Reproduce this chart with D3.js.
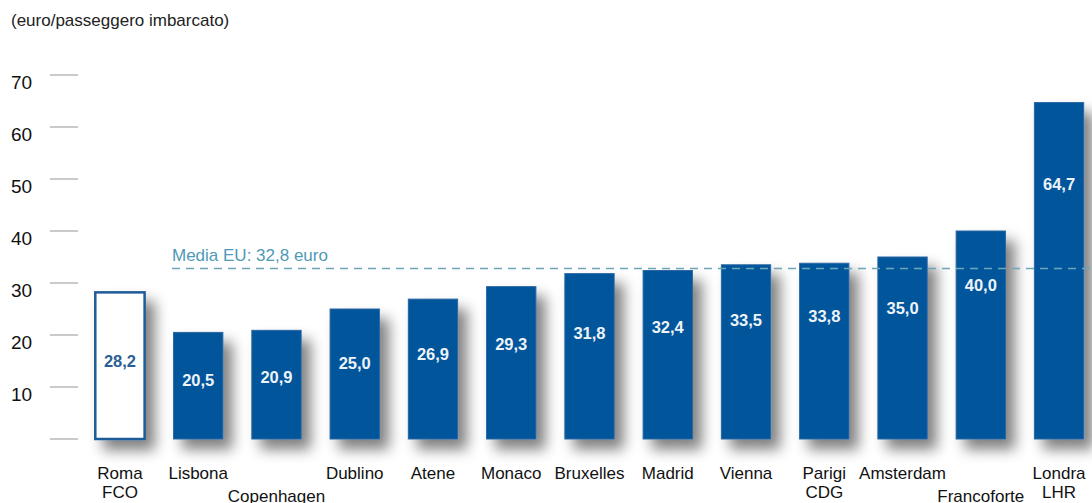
<!DOCTYPE html>
<html>
<head>
<meta charset="utf-8">
<script src="https://cdn.jsdelivr.net/npm/d3@7/dist/d3.min.js"></script>
<style>
  html, body { margin: 0; padding: 0; background: #fff; }
  svg { display: block; font-family: "Liberation Sans", Arial, sans-serif; }
</style>
</head>
<body>
<svg id="chart" width="1092" height="503"></svg>
<script>
// Airport charges per boarded passenger (euro)
const airports = ["Roma\nFCO", "Lisbona", "Copenhagen", "Dublino", "Atene", "Monaco",
  "Bruxelles", "Madrid", "Vienna", "Parigi\nCDG", "Amsterdam", "Francoforte", "Londra\nLHR"];
const charges = [28.2, 20.5, 20.9, 25.0, 26.9, 29.3, 31.8, 32.4, 33.5, 33.8, 35.0, 40.0, 64.7];
const highlighted = ["Roma\nFCO"];
const staggered = ["Copenhagen", "Francoforte"];
const yTicks = [0, 10, 20, 30, 40, 50, 60, 70];
const euMean = 32.8;
const unitLabel = "(euro/passeggero imbarcato)";
const meanLabel = "Media EU: 32,8 euro";

const fmt = v => v.toFixed(1).replace(".", ",");

const svg = d3.select("#chart");
const blue = "#00559b";

// soft drop shadow for bars
const defs = svg.append("defs");
const f = defs.append("filter").attr("id", "shadow")
  .attr("x", "-50%").attr("y", "-20%").attr("width", "220%").attr("height", "170%");
f.append("feGaussianBlur").attr("in", "SourceAlpha").attr("stdDeviation", 7).attr("result", "b");
f.append("feOffset").attr("in", "b").attr("dx", 9).attr("dy", 10).attr("result", "o");
f.append("feComponentTransfer").attr("in", "o").attr("result", "s")
  .append("feFuncA").attr("type", "linear").attr("slope", 0.5);
const m = f.append("feMerge");
m.append("feMergeNode").attr("in", "s");
m.append("feMergeNode").attr("in", "SourceGraphic");

const x = d3.scaleBand().domain(airports).range([82, 1097]).paddingInner(0.37).paddingOuter(0.17);
const y = d3.scaleLinear().domain([0, 70]).range([439, 75]);

// unit label
svg.append("text").attr("x", 11).attr("y", 26)
  .attr("font-size", 17).attr("fill", "#222").text(unitLabel);

// y axis: short tick lines with labels
const yAxis = svg.append("g");
yAxis.selectAll("line").data(yTicks).join("line")
  .attr("x1", 50).attr("x2", 78)
  .attr("y1", d => y(d)).attr("y2", d => y(d))
  .attr("stroke", "#b8b8b8").attr("stroke-width", 1.5);
yAxis.selectAll("text").data(yTicks.filter(d => d > 0)).join("text")
  .attr("x", 11).attr("y", d => y(d) + 14)
  .attr("font-size", 19).attr("fill", "#111").text(d => d);

// bars
const bars = svg.append("g");
bars.selectAll("rect").data(airports).join("rect")
  .attr("x", d => x(d))
  .attr("width", x.bandwidth())
  .attr("y", (d, i) => y(charges[i]))
  .attr("height", (d, i) => y(0) - y(charges[i]))
  .attr("fill", d => highlighted.includes(d) ? "#fff" : blue)
  .attr("stroke", d => highlighted.includes(d) ? "#1d5b98" : "#2a66a3")
  .attr("stroke-width", d => highlighted.includes(d) ? 2.5 : 1)
  .attr("filter", "url(#shadow)");

// EU mean reference line
svg.append("line")
  .attr("x1", 172).attr("x2", 1092)
  .attr("y1", y(euMean)).attr("y2", y(euMean))
  .attr("stroke", "#6ea5b9").attr("stroke-width", 1.5)
  .attr("stroke-dasharray", "8,6");
svg.append("text").attr("x", 172).attr("y", y(euMean) - 7)
  .attr("font-size", 17).attr("fill", "#4f9ab5").text(meanLabel);

// value labels inside bars, rising with bar position
svg.append("g").selectAll("text").data(airports).join("text")
  .attr("x", d => x(d) + x.bandwidth() / 2)
  .attr("y", (d, i) => y(charges[i] * (0.53 + 0.019 * i)) + 6)
  .attr("text-anchor", "middle")
  .attr("font-size", 16.5).attr("font-weight", "bold")
  .attr("fill", d => highlighted.includes(d) ? "#2b5f93" : "#eef3f8")
  .text((d, i) => fmt(charges[i]));

// category labels (long names staggered to a lower row)
const cats = svg.append("g").selectAll("text").data(airports).join("text")
  .attr("x", d => x(d) + x.bandwidth() / 2)
  .attr("y", d => staggered.includes(d) ? 502 : 479)
  .attr("text-anchor", "middle")
  .attr("font-size", 17).attr("fill", "#111");
cats.each(function(d) {
  const lines = d.split("\n");
  const t = d3.select(this);
  lines.forEach((l, k) => {
    t.append("tspan").attr("x", x(d) + x.bandwidth() / 2)
      .attr("dy", k === 0 ? 0 : 19).text(l);
  });
});
</script>
</body>
</html>
